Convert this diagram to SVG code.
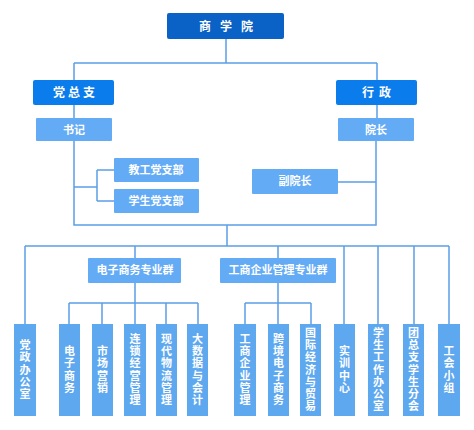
<svg xmlns="http://www.w3.org/2000/svg" width="474" height="430" viewBox="0 0 474 430">
<style>
.ln{fill:none;stroke:#5a9fe6;stroke-width:1.5}
.t{font-family:"Noto Sans CJK SC","Noto Sans",sans-serif;font-weight:bold;fill:#fff;text-anchor:middle}
.v{font-size:11px;writing-mode:vertical-rl;letter-spacing:1.3px}
.top{fill:#0a62c6}
.mid{fill:#0a7cec}
.lt{fill:#64abf5}
.bt{fill:#5ea8ef}
</style>
<rect width="474" height="430" fill="#fff"/>
<g id="connectors" class="ln">
<path d="M226 39V63M74 63H377M74 63V80M377 63V80"/>
<path d="M74 105V118M377 105V118"/>
<path d="M74 141V225H376V141"/>
<path d="M74 187H97M97 170V201M97 170H114M97 201H114"/>
<path d="M338 182H376"/>
<path d="M227 225V246M25 246H449"/>
<path d="M25 246V324M135 246V258M278 246V258M344 246V324M378 246V324M414 246V324M449 246V324"/>
<path d="M135 283V303M69 303H198M69 303V324M102 303V324M135 303V324M166 303V324M198 303V324"/>
<path d="M278 283V303M245 303H311M245 303V324M278 303V324M311 303V324"/>
</g>
<g id="n_sxy"><rect class="top" x="167" y="13" width="117" height="26" rx="2"/><text class="t" y="31" font-size="12"><tspan x="205">商</tspan><tspan x="226">学</tspan><tspan x="247">院</tspan></text></g>
<g id="n_dzz"><rect class="mid" x="33" y="80" width="81" height="25" rx="2"/><text class="t" y="97" font-size="12"><tspan x="59">党</tspan><tspan x="74">总</tspan><tspan x="89">支</tspan></text></g>
<g id="n_xz"><rect class="mid" x="336" y="80" width="81" height="25" rx="2"/><text class="t" y="97" font-size="12"><tspan x="368">行</tspan><tspan x="385">政</tspan></text></g>
<g id="n_sj"><rect class="lt" x="36" y="118" width="76" height="23" rx="1"/><text class="t" x="74" y="134" font-size="11">书记</text></g>
<g id="n_yz"><rect class="lt" x="338" y="118" width="76" height="23" rx="1"/><text class="t" x="376" y="134" font-size="11">院长</text></g>
<g id="n_jg"><rect class="lt" x="114" y="158" width="85" height="24" rx="1"/><text class="t" x="156" y="174" font-size="11">教工党支部</text></g>
<g id="n_xs"><rect class="lt" x="114" y="189" width="85" height="24" rx="1"/><text class="t" x="156" y="205" font-size="11">学生党支部</text></g>
<g id="n_fyz"><rect class="lt" x="252" y="169" width="86" height="25" rx="1"/><text class="t" x="295" y="185" font-size="11">副院长</text></g>
<g id="n_dzsw"><rect class="lt" x="88" y="258" width="93" height="25" rx="1"/><text class="t" x="135" y="274" font-size="11">电子商务专业群</text></g>
<g id="n_gsqy"><rect class="lt" x="220" y="258" width="116" height="25" rx="1"/><text class="t" x="278" y="274" font-size="11">工商企业管理专业群</text></g>
<g id="b1"><rect class="bt" x="14" y="324" width="22" height="92"/><text class="t v" x="25" y="370">党政办公室</text></g>
<g id="b2"><rect class="bt" x="59" y="324" width="21" height="92"/><text class="t v" x="69.5" y="370">电子商务</text></g>
<g id="b3"><rect class="bt" x="92" y="324" width="21" height="92"/><text class="t v" x="102.5" y="370">市场营销</text></g>
<g id="b4"><rect class="bt" x="124" y="324" width="22" height="92"/><text class="t v" x="135" y="370">连锁经营管理</text></g>
<g id="b5"><rect class="bt" x="156" y="324" width="21" height="92"/><text class="t v" x="166.5" y="370">现代物流管理</text></g>
<g id="b6"><rect class="bt" x="187" y="324" width="21" height="92"/><text class="t v" x="197.5" y="370">大数据与会计</text></g>
<g id="b7"><rect class="bt" x="234" y="324" width="22" height="92"/><text class="t v" x="245" y="370">工商企业管理</text></g>
<g id="b8"><rect class="bt" x="268" y="324" width="21" height="92"/><text class="t v" x="278.5" y="370">跨境电子商务</text></g>
<g id="b9"><rect class="bt" x="300" y="324" width="21" height="92"/><text class="t v" x="310.5" y="370">国际经济与贸易</text></g>
<g id="b10"><rect class="bt" x="334" y="324" width="21" height="92"/><text class="t v" x="344.5" y="370">实训中心</text></g>
<g id="b11"><rect class="bt" x="368" y="324" width="21" height="92"/><text class="t v" x="378.5" y="370">学生工作办公室</text></g>
<g id="b12"><rect class="bt" x="403" y="324" width="21" height="92"/><text class="t v" x="413.5" y="370">团总支学生分会</text></g>
<g id="b13"><rect class="bt" x="438" y="324" width="22" height="92"/><text class="t v" x="449" y="370">工会小组</text></g>
</svg>
